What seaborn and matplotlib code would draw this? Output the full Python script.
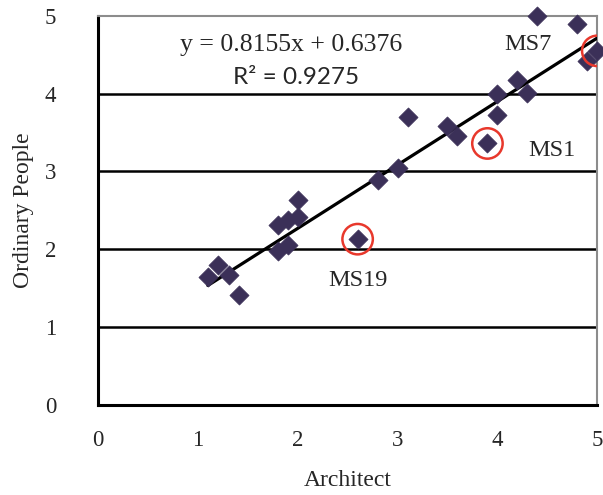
import numpy as np
import pandas as pd
import matplotlib
matplotlib.use("Agg")
import matplotlib.pyplot as plt
import seaborn as sns

# Architect vs ordinary people ratings
architect = [1.10, 1.20, 1.31, 1.41, 1.80, 1.90, 2.00, 2.00, 1.80, 1.90,
             2.60, 2.80, 3.00, 3.10, 3.50, 3.60, 3.90, 4.00, 4.00, 4.20,
             4.30, 4.40, 4.80, 4.90, 5.00]
ordinary = [1.65, 1.80, 1.67, 1.41, 2.31, 2.37, 2.42, 2.63, 1.98, 2.06,
            2.13, 2.89, 3.04, 3.70, 3.58, 3.45, 3.36, 3.73, 4.00, 4.18,
            4.01, 5.00, 4.90, 4.42, 4.55]

# highlighted samples
ms_names = ["MS7", "MS1", "MS19"]
ms_x = [5.00, 3.90, 2.60]
ms_y = [4.55, 3.36, 2.13]

slope = 0.8155
intercept = 0.6376
r2 = 0.9275
fit_x = [1.1, 5.0]

xticks = [0, 1, 2, 3, 4, 5]
yticks = [0, 1, 2, 3, 4, 5]

sns.set_style("white")
plt.rcParams["font.family"] = ["Liberation Serif", "DejaVu Serif"]

df = pd.DataFrame({"Architect": architect, "Ordinary People": ordinary})
fit = pd.DataFrame({"x": fit_x, "y": [slope * v + intercept for v in fit_x]})

fig = plt.figure(figsize=(6.03, 4.95), dpi=100)
ax = fig.add_axes([0.1625, 0.182, 0.828, 0.786])

# horizontal grid lines
for yv in yticks[1:-1]:
    ax.axhline(yv, color="black", lw=1.8, zorder=1)

sns.lineplot(data=fit, x="x", y="y", ax=ax, color="black", lw=2.3, zorder=3)
sns.scatterplot(data=df, x="Architect", y="Ordinary People", ax=ax,
                marker="D", s=95, color="#3b3058", edgecolor="#3b3058",
                linewidth=0.5, zorder=4, clip_on=False)
sns.scatterplot(x=ms_x, y=ms_y, ax=ax, marker="o", s=480,
                facecolor="none", edgecolor="#e8382c", linewidth=1.8, zorder=5)

ax.set_xlim(0, 5)
ax.set_ylim(0, 5)
ax.set_xticks(xticks)
ax.set_yticks(yticks)
ax.tick_params(axis="x", direction="in", length=6, width=2, color="black",
               labelsize=16.5, pad=18)
ax.tick_params(axis="y", direction="in", length=5, width=2, color="black",
               labelsize=16.5, pad=30)

for side in ["left", "bottom"]:
    ax.spines[side].set_color("black")
    ax.spines[side].set_linewidth(2.2)
for side in ["top", "right"]:
    ax.spines[side].set_color("#8c8c8c")
    ax.spines[side].set_linewidth(1.5)

ax.set_xlabel("Architect", fontsize=17, labelpad=14)
ax.set_ylabel("Ordinary People", fontsize=17, labelpad=8)

# sample labels
ms_text_pos = [(528, 45), (552, 150), (358, 280)]
for name, mx, my, (px, py) in zip(ms_names, ms_x, ms_y, ms_text_pos):
    ax.text(px / 603, 1 - py / 495, name, transform=fig.transFigure,
            ha="center", va="center", fontsize=17.5)

ax.text(291 / 603, 1 - 45 / 495, f"y = {slope}x + {intercept}",
        transform=fig.transFigure, ha="center", va="center", fontsize=18.5)
ax.text(296 / 603, 1 - 78 / 495, f"R\u00b2 = {r2}", transform=fig.transFigure,
        ha="center", va="center", fontsize=17.5, family=["Lato", "DejaVu Sans"])

fig.savefig("out.png", dpi=100)
